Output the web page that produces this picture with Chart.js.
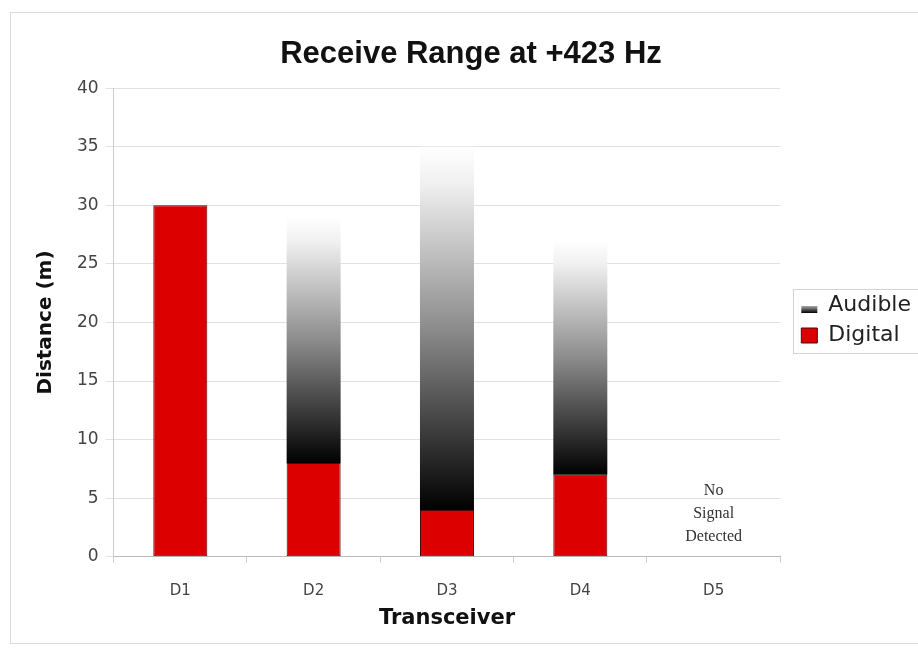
<!DOCTYPE html>
<html>
<head>
<meta charset="utf-8">
<script src="https://cdn.jsdelivr.net/npm/chart.js@4/dist/chart.umd.min.js"></script>
<style>
  html, body { margin: 0; padding: 0; background: #fff; }
  #wrap { position: absolute; left: 10px; top: 12px; width: 920px; height: 632px; border: 1px solid #dcdcdc; box-sizing: border-box; }
  #c { position: absolute; left: 0; top: 0; }
</style>
</head>
<body>
<div id="wrap"></div>
<canvas id="c" width="918" height="657"></canvas>
<script>
const categories = ['D1', 'D2', 'D3', 'D4', 'D5'];
const digital = [30, 8, 4, 7, null];
const audible = [0, 21, 31, 20, null];
const yTicks = [0, 5, 10, 15, 20, 25, 30, 35, 40];
const noSignalLines = ['No', 'Signal', 'Detected'];
const noSignalIndex = 4;

function audibleFill(ctx) {
  const chart = ctx.chart;
  if (!chart.chartArea || ctx.dataIndex === undefined || !chart.scales.y) return '#444';
  const i = ctx.dataIndex;
  const y = chart.scales.y;
  const base = digital[i] || 0;
  const bottom = y.getPixelForValue(base);
  const top = y.getPixelForValue(base + (audible[i] || 0));
  if (!isFinite(bottom) || !isFinite(top) || bottom === top) return '#444';
  const g = chart.ctx.createLinearGradient(0, bottom, 0, top);
  g.addColorStop(0, '#000000');
  g.addColorStop(0.06, '#111111');
  g.addColorStop(0.5, '#8c8c8c');
  g.addColorStop(0.9, '#f0f0f0');
  g.addColorStop(1, '#ffffff');
  return g;
}

const LEGEND_DX = 13, LEGEND_DY = -8;

const extras = {
  id: 'extras',
  afterLayout(chart) {
    const lg = chart.legend;
    if (!lg) return;
    lg.left += LEGEND_DX; lg.right += LEGEND_DX;
    lg.top += LEGEND_DY; lg.bottom += LEGEND_DY;
  },
  afterDraw(chart) {
    const c = chart.ctx;
    const x = chart.scales.x.getPixelForValue(noSignalIndex);
    const y = chart.scales.y;
    c.save();
    c.font = '16px "Liberation Serif", serif';
    c.fillStyle = '#333';
    c.textAlign = 'center';
    c.textBaseline = 'middle';
    const vals = [5.65, 3.68, 1.71];
    noSignalLines.forEach((t, k) => c.fillText(t, x, y.getPixelForValue(vals[k])));
    const lg = chart.legend;
    if (lg && lg.legendHitBoxes && lg.legendHitBoxes.length) {
      const bw = lg.options.labels.boxWidth, bh = lg.options.labels.boxHeight;
      lg.legendHitBoxes.forEach((hb, k) => {
        if (lg.legendItems[k].text === 'Audible') {
          const by = hb.top + (hb.height - bh) / 2;
          c.fillStyle = '#fff';
          c.fillRect(hb.left - 1, by - 1, bw + 2, bh + 2);
          const g = c.createLinearGradient(0, by + bh, 0, by + bh - 7);
          g.addColorStop(0, '#000');
          g.addColorStop(1, '#aaa');
          c.fillStyle = g;
          c.fillRect(hb.left, by + bh - 7, bw, 7);
        }
      });
      const first = lg.legendHitBoxes[0], last = lg.legendHitBoxes[lg.legendHitBoxes.length - 1];
      c.strokeStyle = '#d4d4d4';
      c.lineWidth = 1;
      c.strokeRect(Math.round(first.left - 8) + 0.5, Math.round(first.top - 6) + 0.5, 200, Math.round(last.top + last.height - first.top + 12));
    }
    c.restore();
  }
};

new Chart(document.getElementById('c'), {
  type: 'bar',
  data: {
    labels: categories,
    datasets: [
      {
        label: 'Digital',
        data: digital,
        backgroundColor: '#dd0000',
        borderColor: '#4a0a0a',
        borderWidth: 1,
        borderSkipped: false,
        barPercentage: 0.81,
        categoryPercentage: 0.5
      },
      {
        label: 'Audible',
        data: audible,
        backgroundColor: audibleFill,
        borderWidth: 0,
        barPercentage: 0.81,
        categoryPercentage: 0.5
      }
    ]
  },
  options: {
    responsive: false,
    animation: false,
    devicePixelRatio: 1,
    layout: { padding: { left: 34, right: 10, top: 26, bottom: 26 } },
    plugins: {
      title: {
        display: true,
        text: 'Receive Range at +423 Hz',
        color: '#111',
        font: { family: '"Liberation Sans", Arial, sans-serif', size: 31, weight: 'bold' },
        padding: { top: 10, bottom: 15 }
      },
      legend: {
        position: 'right',
        reverse: true,
        labels: {
          boxWidth: 16,
          boxHeight: 15,
          color: '#222',
          padding: 8,
          font: { family: '"DejaVu Sans", Verdana, sans-serif', size: 22 }
        }
      },
      tooltip: { enabled: false }
    },
    scales: {
      x: {
        stacked: true,
        grid: { display: true, drawOnChartArea: false, color: '#ccc', tickLength: 6, offset: true },
        border: { color: '#bbb' },
        ticks: { color: '#444', padding: 19, font: { family: '"DejaVu Sans", sans-serif', size: 15 } },
        title: {
          display: true,
          text: 'Transceiver',
          color: '#111',
          padding: { top: -13, bottom: 0 },
          font: { family: '"DejaVu Sans", sans-serif', size: 21, weight: 'bold' }
        }
      },
      y: {
        stacked: true,
        min: 0,
        max: 40,
        afterBuildTicks(axis) { axis.ticks = yTicks.map(v => ({ value: v })); },
        grid: { color: '#e2e2e2', tickLength: 8 },
        border: { color: '#ccc' },
        ticks: { color: '#444', padding: 7, font: { family: '"DejaVu Sans", sans-serif', size: 17 } },
        title: {
          display: true,
          text: 'Distance (m)',
          color: '#111',
          padding: { top: 0, bottom: 12 },
          font: { family: '"DejaVu Sans", sans-serif', size: 20, weight: 'bold' }
        }
      }
    }
  },
  plugins: [extras]
});
</script>
</body>
</html>
